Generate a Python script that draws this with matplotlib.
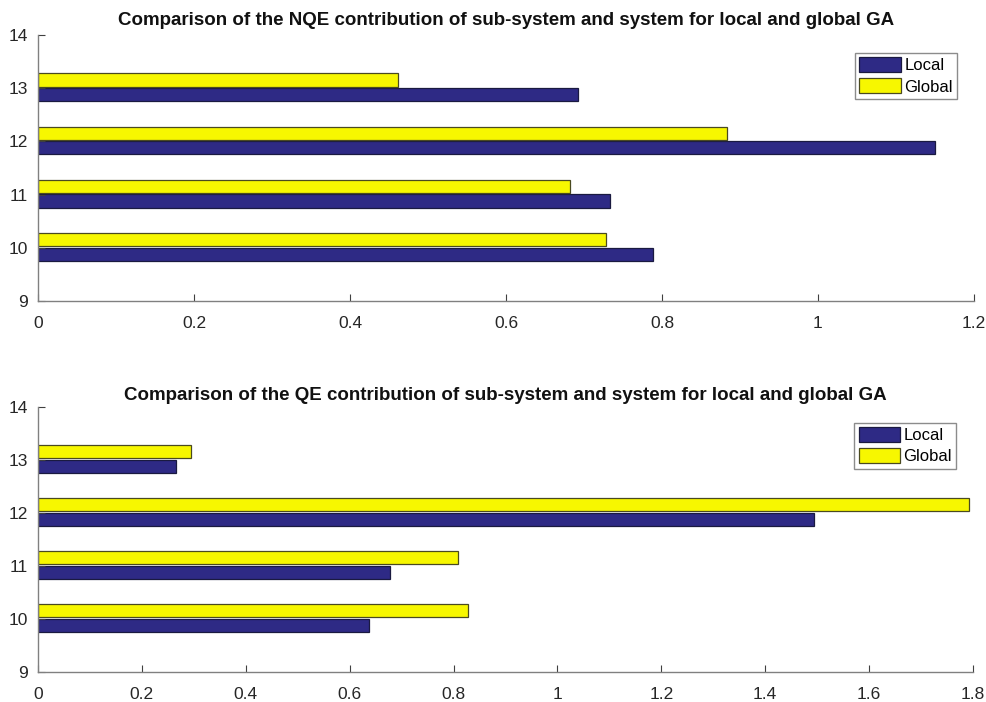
import matplotlib
matplotlib.use("Agg")
import matplotlib.pyplot as plt
import numpy as np

plt.rcParams['font.family'] = ['Liberation Sans', 'DejaVu Sans']

categories = [10, 11, 12, 13]
series_names = ["Local", "Global"]
nqe_local = [0.789, 0.733, 1.150, 0.692]
nqe_global = [0.728, 0.682, 0.883, 0.462]
qe_local = [0.637, 0.678, 1.494, 0.265]
qe_global = [0.828, 0.809, 1.792, 0.294]

titles = [
    "Comparison of the NQE contribution of sub-system and system for local and global GA",
    "Comparison of the QE contribution of sub-system and system for local and global GA",
]
xlims = [(0, 1.2), (0, 1.8)]
xticks = [np.round(np.arange(0, 1.21, 0.2), 1), np.round(np.arange(0, 1.81, 0.2), 1)]
yticks = [9, 10, 11, 12, 13, 14]

local_color = "#2E2A85"
global_color = "#F7F700"
spine_color = "#808080"
text_color = "#262626"

fig = plt.figure(figsize=(9.87, 7.02), dpi=100)
ax1 = fig.add_axes([38/987, 1-301/702, (974-38)/987, (301-35)/702])
ax2 = fig.add_axes([38/987, 1-672/702, (973-38)/987, (672-407)/702])

h = 0.25
for ax, loc, glob, title, xl, xt, anchor, tpad in [
    (ax1, nqe_local, nqe_global, titles[0], xlims[0], xticks[0], (0.982, 0.932), 7),
    (ax2, qe_local, qe_global, titles[1], xlims[1], xticks[1], (0.982, 0.94), 5),
]:
    y = np.array(categories, dtype=float)
    ax.barh(y - 0.12, loc, height=h, color=local_color, edgecolor="#1a1a40",
            linewidth=0.9, label=series_names[0])
    ax.barh(y + 0.155, glob, height=h, color=global_color, edgecolor="#4a4a20",
            linewidth=0.9, label=series_names[1])
    ax.set_xlim(*xl)
    ax.set_ylim(9, 14)
    ax.set_xticks(xt)
    ax.set_xticklabels([("%g" % v) for v in xt])
    ax.set_yticks(yticks)
    for s in ["top", "right"]:
        ax.spines[s].set_visible(False)
    for s in ["left", "bottom"]:
        ax.spines[s].set_color(spine_color)
        ax.spines[s].set_linewidth(1.0)
    ax.tick_params(direction="in", length=5, width=0.8, color="#404040",
                   labelsize=12.5, labelcolor=text_color)
    ax.tick_params(axis="x", pad=11)
    ax.tick_params(axis="y", pad=7)
    ax.set_title(title, fontsize=13.5, fontweight="bold", pad=tpad, color="#111111")
    leg = ax.legend(loc="upper right", bbox_to_anchor=anchor, fontsize=12,
                    fancybox=False, framealpha=1, edgecolor="#8c8c8c",
                    handlelength=2.5, handleheight=1.0, handletextpad=0.2,
                    borderpad=0.25, labelspacing=0.3, borderaxespad=0)
    leg.get_frame().set_linewidth(1.0)

fig.savefig("out.png", dpi=100)
